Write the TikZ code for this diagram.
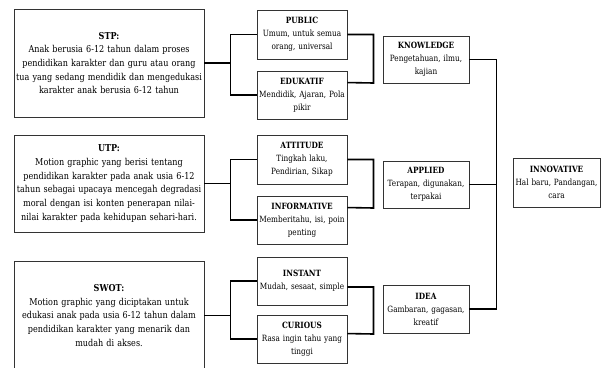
\documentclass[tikz,border=0pt]{standalone}
\usepackage{fontspec}
\setmainfont{DejaVu Serif}[FakeStretch=0.85]
\usetikzlibrary{calc}

\tikzset{
  box/.style={draw=black!80, line width=0.9pt, align=center, inner sep=1pt,
    font=\fontsize{8.6}{12.3}\selectfont},
  bigbox/.style={box, text width=188, minimum width=190,
    font=\fontsize{9.5}{13.7}\selectfont},
  smallbox/.style={box, text width=86, minimum width=90, minimum height=48,
    font=\fontsize{8.6}{13}\selectfont},
  link/.style={line width=1.6pt, black}
}

\begin{document}
\begin{tikzpicture}[x=1pt, y=-1pt]
  \useasboundingbox (0,0) rectangle (601,367);

  % left column
  \node[bigbox, minimum height=108] (stp) at (109,63)
    {\textbf{STP:}\\ Anak berusia 6-12 tahun dalam proses\\ pendidikan karakter dan guru atau orang\\ tua yang sedang mendidik dan mengedukasi\\ karakter anak berusia 6-12 tahun};
  \node[bigbox, minimum height=97] (utp) at (109,183.5)
    {\textbf{UTP:}\\ Motion graphic yang berisi tentang\\ pendidikan karakter pada anak usia 6-12\\ tahun sebagai upacaya mencegah degradasi\\ moral dengan isi konten penerapan nilai-\\ nilai karakter pada kehidupan sehari-hari.};
  \node[bigbox, minimum height=109] (swot) at (109,315.5)
    {\textbf{SWOT:}\\ Motion graphic yang diciptakan untuk\\ edukasi anak pada usia 6-12 tahun dalam\\ pendidikan karakter yang menarik dan\\ mudah di akses.};

  % middle column
  \node[smallbox, minimum height=49] (public) at (302,34.5)
    {\textbf{PUBLIC}\\ Umum, untuk semua\\ orang, universal};
  \node[smallbox] (edukatif) at (302,95)
    {\textbf{EDUKATIF}\\ Mendidik, Ajaran, Pola\\ pikir};
  \node[smallbox, minimum height=49] (attitude) at (302,159.5)
    {\textbf{ATTITUDE}\\ Tingkah laku,\\ Pendirian, Sikap};
  \node[smallbox] (informative) at (302,220)
    {\textbf{INFORMATIVE}\\ Memberitahu, isi, poin\\ penting};
  \node[smallbox] (instant) at (302,281)
    {\textbf{INSTANT}\\ Mudah, sesaat, simple};
  \node[smallbox] (curious) at (302,339)
    {\textbf{CURIOUS}\\ Rasa ingin tahu yang\\ tinggi};

  % right columns
  \node[smallbox, text width=82, minimum width=86, minimum height=47] (knowledge) at (426,59.5)
    {\textbf{KNOWLEDGE}\\ Pengetahuan, ilmu,\\ kajian};
  \node[smallbox, text width=82, minimum width=86, minimum height=47] (applied) at (426,184.5)
    {\textbf{APPLIED}\\ Terapan, digunakan,\\ terpakai};
  \node[smallbox, text width=82, minimum width=86, minimum height=48] (idea) at (426,309)
    {\textbf{IDEA}\\ Gambaran, gagasan,\\ kreatif};
  \node[smallbox, text width=84, minimum width=87, minimum height=49] (innovative) at (556.5,182.5)
    {\textbf{INNOVATIVE}\\ Hal baru, Pandangan,\\ cara};

  % brackets
  \draw[link] (stp.east) -- ++(26,0);
  \draw[link] (public.west) -| ($(stp.east)+(26,0)$) |- (edukatif.west);
  \draw[link] (utp.east) -- ++(26,0);
  \draw[link] (attitude.west) -| ($(utp.east)+(26,0)$) |- (informative.west);
  \draw[link] (swot.east) -- ++(26,0);
  \draw[link] (instant.west) -| ($(swot.east)+(26,0)$) |- (curious.west);

  \draw[link] (public.east) -| ++(26,48.5) -- ([yshift=-12]edukatif.north east);
  \draw[link] (attitude.east) -| ++(26,48.5) -- ([yshift=-12]informative.north east);
  \draw[link] ([yshift=-6]instant.east) -| ++(26,47) -- ([yshift=-19]curious.north east);

  \draw[link] (knowledge.east) -- ++(27,0) coordinate (trunk) |- (idea.east);
  \draw[link] (applied.east) -- (applied.east -| trunk);
\end{tikzpicture}
\end{document}
